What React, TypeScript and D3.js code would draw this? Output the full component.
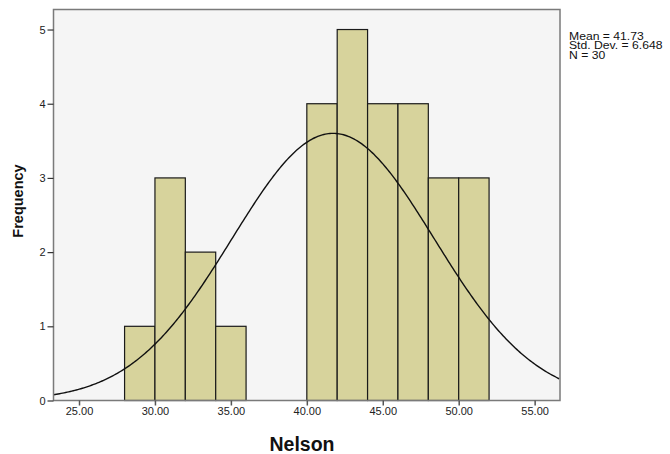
import React, { useEffect, useRef } from 'react'
import * as d3 from 'd3'

// histogram bins (lower edge, count); all bins are 2 wide
const binStarts = [28, 30, 32, 34, 40, 42, 44, 46, 48, 50]
const binWidth = 2
const binCounts = [1, 3, 2, 1, 4, 5, 4, 4, 3, 3]

const xTicks = [25, 30, 35, 40, 45, 50, 55]
const yTicks = [0, 1, 2, 3, 4, 5]

const stats = { mean: 41.73, sd: 6.648, n: 30 }
const statLabels = ['Mean = 41.73', 'Std. Dev. = 6.648', 'N = 30']

export default function App() {
  const svgRef = useRef<SVGSVGElement>(null)

  useEffect(() => {
    document.body.style.margin = '0'
    if (!svgRef.current) return

    const width = 670
    const height = 454
    const left = 53.5
    const right = 560
    const top = 9.5
    const bottom = 400.5

    const svg = d3.select(svgRef.current)
    svg.selectAll('*').remove()
    svg.attr('width', width).attr('height', height)

    const x = d3.scaleLinear().domain([23.32, 56.67]).range([left, right])
    const y = d3.scaleLinear().domain([0, 5.27]).range([bottom, top])

    // plot background
    svg.append('rect')
      .attr('x', left)
      .attr('y', top)
      .attr('width', right - left)
      .attr('height', bottom - top)
      .attr('fill', '#f5f5f5')

    // bars
    svg.append('g')
      .selectAll('rect')
      .data(binStarts)
      .join('rect')
      .attr('x', d => x(d))
      .attr('y', (d, i) => y(binCounts[i]))
      .attr('width', d => x(d + binWidth) - x(d))
      .attr('height', (d, i) => y(0) - y(binCounts[i]))
      .attr('fill', '#d7d39c')
      .attr('stroke', '#1a1a1a')
      .attr('stroke-width', 1.2)

    // normal curve from the shown mean / sd
    const scaleN = stats.n * binWidth
    const pts = d3.range(x.domain()[0], x.domain()[1] + 0.01, 0.1).map(v => {
      const z = (v - stats.mean) / stats.sd
      return [v, (scaleN / (stats.sd * Math.sqrt(2 * Math.PI))) * Math.exp(-0.5 * z * z)] as [number, number]
    })
    svg.append('path')
      .datum(pts)
      .attr('d', d3.line<[number, number]>().x(d => x(d[0])).y(d => y(d[1])))
      .attr('fill', 'none')
      .attr('stroke', '#111')
      .attr('stroke-width', 1.4)

    // frame
    svg.append('rect')
      .attr('x', left)
      .attr('y', top)
      .attr('width', right - left)
      .attr('height', bottom - top)
      .attr('fill', 'none')
      .attr('stroke', '#7a7a7a')
      .attr('stroke-width', 1.5)

    const font = 'Arial, "Liberation Sans", sans-serif'

    // x axis
    const xAxis = svg.append('g')
      .attr('transform', `translate(0,${bottom})`)
      .call(d3.axisBottom(x).tickValues(xTicks).tickFormat(d3.format('.2f')).tickSize(5).tickPadding(2))
    xAxis.select('.domain').remove()
    xAxis.selectAll('line').attr('stroke', '#555').attr('stroke-width', 1.5)
    xAxis.selectAll('text').attr('font-family', font).attr('font-size', 11).attr('fill', '#222')

    // y axis
    const yAxis = svg.append('g')
      .attr('transform', `translate(${left},0)`)
      .call(d3.axisLeft(y).tickValues(yTicks).tickFormat(d3.format('d')).tickSize(6).tickPadding(2))
    yAxis.select('.domain').remove()
    yAxis.selectAll('line').attr('stroke', '#333').attr('stroke-width', 1.2)
    yAxis.selectAll('text').attr('font-family', font).attr('font-size', 11).attr('fill', '#222')

    // axis titles
    svg.append('text')
      .attr('x', 302)
      .attr('y', 451)
      .attr('text-anchor', 'middle')
      .attr('font-family', font)
      .attr('font-weight', 'bold')
      .attr('font-size', 19.5)
      .attr('fill', '#111')
      .text('Nelson')

    svg.append('text')
      .attr('transform', 'translate(23,201) rotate(-90)')
      .attr('text-anchor', 'middle')
      .attr('font-family', font)
      .attr('font-weight', 'bold')
      .attr('font-size', 14.5)
      .attr('fill', '#111')
      .text('Frequency')

    // stats box (text is slightly stretched horizontally in the original)
    svg.append('g')
      .attr('transform', 'translate(569,0) scale(1.16,1)')
      .selectAll('text')
      .data(statLabels)
      .join('text')
      .attr('x', 0)
      .attr('y', (d, i) => 40 + i * 9.5)
      .attr('font-family', font)
      .attr('font-size', 10.5)
      .attr('fill', '#111')
      .text(d => d)
  }, [])

  return <svg ref={svgRef} style={{ display: 'block' }} />
}
